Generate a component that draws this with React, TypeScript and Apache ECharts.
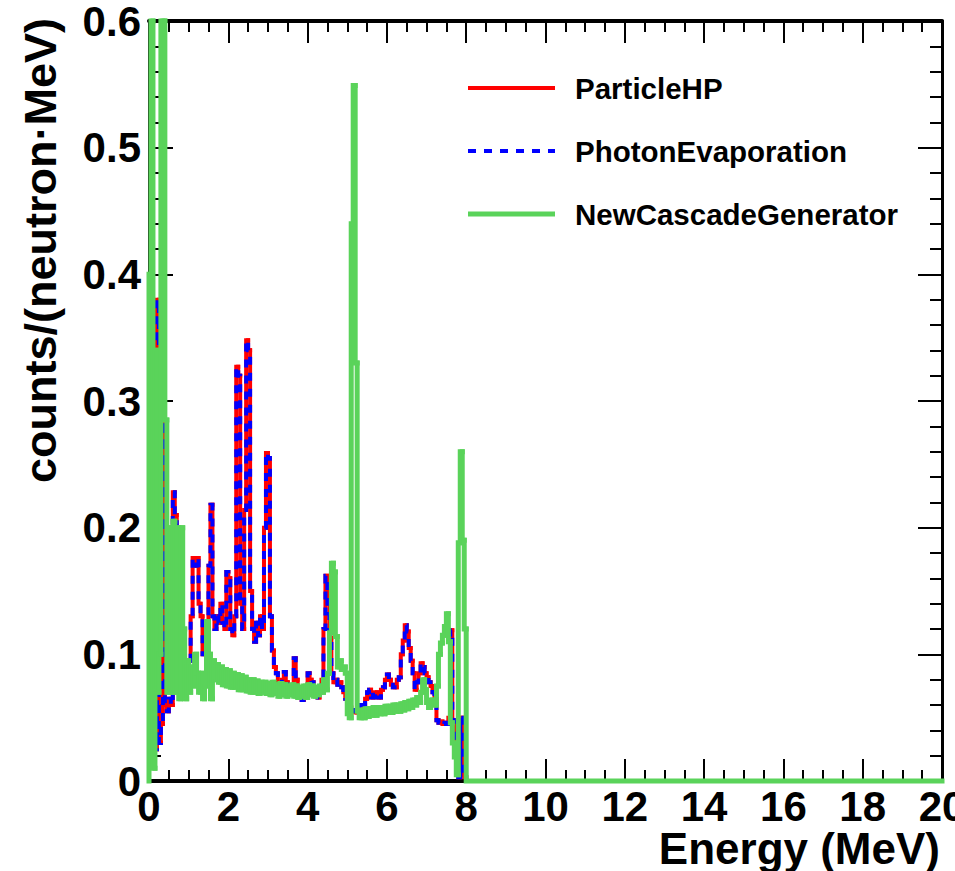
import { useEffect, useRef } from "react";
import * as echarts from "echarts";

// ---- data ----
const BIN_WIDTH = 0.05; // MeV per histogram bin
const ENERGY_MIN = 0;
const ENERGY_MAX = 20;
const COUNTS_MAX = 0.6;

const seriesNames = ["ParticleHP", "PhotonEvaporation", "NewCascadeGenerator"];
const xAxisTitle = "Energy (MeV)";
const yAxisTitle = "counts/(neutron\u00b7MeV)";

// bin contents from 0 to 8 MeV, 20 bins (1 MeV) per row; zero above 8 MeV
const particleHP = [
  0.02, 0.05, 0.035, 0.025, 0.38, 0.03, 0.045, 0.62, 0.06, 0.055, 0.065, 0.06, 0.228, 0.21, 0.1, 0.095, 0.09, 0.088, 0.092, 0.09,
  0.095, 0.13, 0.176, 0.17, 0.176, 0.14, 0.13, 0.1, 0.105, 0.11, 0.17, 0.218, 0.13, 0.12, 0.13, 0.125, 0.14, 0.125, 0.12, 0.165,
  0.16, 0.12, 0.115, 0.13, 0.327, 0.32, 0.14, 0.12, 0.214, 0.348, 0.34, 0.15, 0.12, 0.11, 0.125, 0.115, 0.13, 0.12, 0.2, 0.259,
  0.255, 0.13, 0.103, 0.09, 0.085, 0.075, 0.07, 0.08, 0.086, 0.078, 0.072, 0.07, 0.075, 0.097, 0.08, 0.072, 0.068, 0.064, 0.07, 0.075,
  0.085, 0.08, 0.078, 0.072, 0.068, 0.066, 0.07, 0.08, 0.12, 0.162, 0.14, 0.113, 0.085, 0.078, 0.08, 0.076, 0.078, 0.074, 0.07, 0.065,
  0.061, 0.058, 0.056, 0.055, 0.054, 0.056, 0.06, 0.056, 0.06, 0.065, 0.07, 0.072, 0.066, 0.068, 0.07, 0.066, 0.066, 0.072, 0.074, 0.08,
  0.084, 0.08, 0.076, 0.074, 0.074, 0.08, 0.082, 0.1, 0.111, 0.123, 0.118, 0.105, 0.095, 0.085, 0.072, 0.078, 0.085, 0.093, 0.09, 0.085,
  0.082, 0.078, 0.075, 0.07, 0.065, 0.048, 0.046, 0.047, 0.045, 0.046, 0.045, 0.05, 0.119, 0.048, 0.03, 0.005, 0.003, 0.05, 0.005, 0.003,
];

// PhotonEvaporation coincides with ParticleHP everywhere in the picture
const photonEvaporation = [...particleHP];

const newCascadeGenerator = [
  0.4, 0.65, 0.01, 0.34, 0.07, 0.1, 0.65, 0.62, 0.285, 0.07, 0.2, 0.07, 0.205, 0.07, 0.2, 0.065, 0.2, 0.12, 0.065, 0.095,
  0.07, 0.09, 0.075, 0.1, 0.085, 0.07, 0.085, 0.065, 0.075, 0.126, 0.1, 0.065, 0.095, 0.08, 0.092, 0.078, 0.09, 0.076, 0.088, 0.075,
  0.087, 0.074, 0.085, 0.074, 0.084, 0.072, 0.083, 0.072, 0.082, 0.071, 0.08, 0.07, 0.08, 0.07, 0.079, 0.069, 0.078, 0.07, 0.078, 0.069,
  0.077, 0.068, 0.078, 0.069, 0.076, 0.067, 0.077, 0.068, 0.076, 0.067, 0.075, 0.068, 0.076, 0.067, 0.075, 0.066, 0.074, 0.067, 0.075, 0.066,
  0.076, 0.068, 0.075, 0.067, 0.074, 0.068, 0.075, 0.07, 0.08, 0.072, 0.085, 0.117, 0.172, 0.165, 0.114, 0.09, 0.095, 0.088, 0.09, 0.085,
  0.053, 0.05, 0.44, 0.549, 0.33, 0.055, 0.05, 0.056, 0.05, 0.057, 0.051, 0.057, 0.052, 0.058, 0.052, 0.058, 0.053, 0.058, 0.053, 0.059,
  0.054, 0.059, 0.054, 0.06, 0.055, 0.06, 0.055, 0.061, 0.056, 0.062, 0.057, 0.063, 0.058, 0.064, 0.06, 0.066, 0.062, 0.07, 0.08, 0.072,
  0.062, 0.058, 0.064, 0.06, 0.06, 0.075, 0.1, 0.109, 0.115, 0.122, 0.132, 0.11, 0.046, 0.03, 0.019, 0.005, 0.188, 0.26, 0.19, 0.12,
];

const FONT = '"Liberation Sans", Arial, Helvetica, sans-serif';

// table of bins: [lowEdge, highEdge, content, previousContent]; last row closes the histogram to 20 MeV
function binTable(values: number[]): number[][] {
  const rows = values.map((v, i) => [
    +(i * BIN_WIDTH).toFixed(2),
    +((i + 1) * BIN_WIDTH).toFixed(2),
    v,
    i === 0 ? 0 : values[i - 1],
  ]);
  rows.push([+(values.length * BIN_WIDTH).toFixed(2), ENERGY_MAX, 0, values[values.length - 1]]);
  return rows;
}

export default function App() {
  const ref = useRef<HTMLDivElement>(null);

  useEffect(() => {
    if (!ref.current) return;
    const chart = echarts.init(ref.current, undefined, { renderer: "svg" });

    const tickStyle = { color: "#000", width: 2 };
    const xBase: any = {
      type: "value",
      min: ENERGY_MIN,
      max: ENERGY_MAX,
      interval: 2,
      axisLine: { show: true, onZero: false, lineStyle: { color: "#000", width: 4 } },
      axisTick: { show: true, inside: true, length: 22, lineStyle: tickStyle },
      minorTick: { show: true, splitNumber: 4, length: 11, lineStyle: tickStyle },
      splitLine: { show: false },
      minorSplitLine: { show: false },
    };
    const yBase: any = {
      type: "value",
      min: 0,
      max: COUNTS_MAX,
      interval: 0.1,
      axisLine: { show: true, onZero: false, lineStyle: { color: "#000", width: 3 } },
      axisTick: { show: true, inside: true, length: 24, lineStyle: tickStyle },
      minorTick: { show: true, splitNumber: 5, length: 12, lineStyle: tickStyle },
      splitLine: { show: false },
      minorSplitLine: { show: false },
    };
    const labelStyle = {
      fontSize: 42,
      fontWeight: "bold",
      fontFamily: FONT,
      color: "#000",
    };

    const clampY = (v: number) => Math.min(v, COUNTS_MAX);

    // solid histogram: each bin drawn as its rising/falling edge plus its top
    const binSeries = (name: string, values: number[], style: any, z: number) => ({
      name,
      type: "custom",
      coordinateSystem: "cartesian2d",
      z,
      silent: true,
      clip: false,
      data: binTable(values),
      encode: { x: [0, 1], y: [2, 3] },
      renderItem: (_params: any, api: any) => {
        const lo = api.value(0);
        const hi = api.value(1);
        const v = clampY(api.value(2));
        const prev = clampY(api.value(3));
        return {
          type: "polyline",
          shape: { points: [api.coord([lo, prev]), api.coord([lo, v]), api.coord([hi, v])] },
          style: { ...style, fill: "none", lineCap: "square", lineJoin: "miter" },
          silent: true,
        };
      },
    });

    // dashed histogram: one continuous step polyline so the dash pattern runs on
    const dashedSeries = (name: string, values: number[], style: any, z: number) => {
      const table = binTable(values);
      return {
        name,
        type: "custom",
        coordinateSystem: "cartesian2d",
        z,
        silent: true,
        clip: false,
        data: table,
        encode: { x: [0, 1], y: [2, 3] },
        renderItem: (params: any, api: any) => {
          if (params.dataIndex !== 0) return null;
          const points: number[][] = [];
          table.forEach((row) => {
            points.push(api.coord([row[0], clampY(row[3])]));
            points.push(api.coord([row[0], clampY(row[2])]));
            points.push(api.coord([row[1], clampY(row[2])]));
          });
          return {
            type: "polyline",
            shape: { points },
            style: { ...style, fill: "none", lineJoin: "miter" },
            silent: true,
          };
        },
      };
    };

    const redStyle = { stroke: "#ff0000", lineWidth: 4 };
    const blueStyle = { stroke: "#0000ff", lineWidth: 4, lineDash: [8, 8] };
    const greenStyle = { stroke: "#5ad35a", lineWidth: 5 };

    const legendRows = [
      { name: seriesNames[0], y: 88, style: redStyle },
      { name: seriesNames[1], y: 151, style: blueStyle },
      { name: seriesNames[2], y: 214, style: greenStyle },
    ];

    const graphic: any[] = [];
    legendRows.forEach((r) => {
      graphic.push({
        type: "line",
        shape: { x1: 468, y1: r.y, x2: 555, y2: r.y },
        style: { ...r.style, fill: null },
        silent: true,
      });
      graphic.push({
        type: "text",
        x: 575,
        y: r.y,
        style: {
          text: r.name,
          font: `bold 29.5px ${FONT}`,
          fill: "#000",
          align: "left",
          verticalAlign: "middle",
        },
        silent: true,
      });
    });
    graphic.push({
      type: "text",
      x: 40,
      y: 18,
      rotation: Math.PI / 2,
      style: {
        text: yAxisTitle,
        font: `bold 45px ${FONT}`,
        fill: "#000",
        align: "right",
        verticalAlign: "middle",
      },
      silent: true,
    });
    graphic.push({
      type: "text",
      x: 940,
      y: 848,
      style: {
        text: xAxisTitle,
        font: `bold 44px ${FONT}`,
        fill: "#000",
        align: "right",
        verticalAlign: "middle",
      },
      silent: true,
    });

    chart.setOption({
      animation: false,
      backgroundColor: "#ffffff",
      grid: {
        left: 149,
        right: 13,
        top: 21,
        bottom: 90,
        containLabel: false,
        outerBoundsMode: "none",
      },
      xAxis: [
        { ...xBase, position: "bottom", axisLabel: { ...labelStyle, show: true, margin: 4 } },
        { ...xBase, position: "top", axisLabel: { show: false } },
      ],
      yAxis: [
        {
          ...yBase,
          position: "left",
          axisLabel: {
            ...labelStyle,
            show: true,
            margin: 8,
            formatter: (v: number) => (v === 0 ? "0" : v.toFixed(1)),
          },
        },
        { ...yBase, position: "right", axisLabel: { show: false } },
      ],
      series: [
        binSeries(seriesNames[0], particleHP, redStyle, 2),
        dashedSeries(seriesNames[1], photonEvaporation, blueStyle, 3),
        binSeries(seriesNames[2], newCascadeGenerator, greenStyle, 4),
      ],
      graphic,
    });

    return () => chart.dispose();
  }, []);

  return (
    <div
      ref={ref}
      style={{ position: "absolute", left: 0, top: 0, width: 955, height: 871, background: "#fff" }}
    />
  );
}
